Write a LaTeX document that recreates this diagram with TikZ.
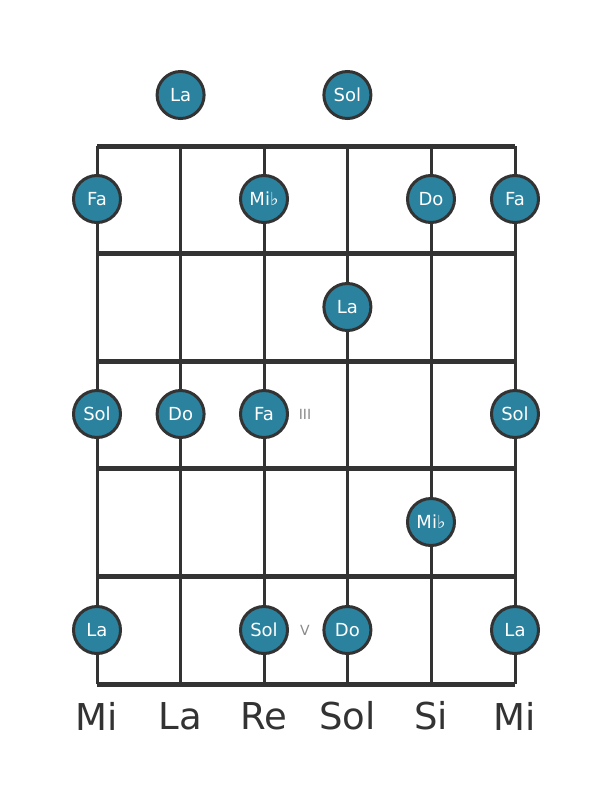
\documentclass[tikz,border=0pt]{standalone}
\usepackage{fontspec}
\setmainfont{DejaVu Sans}
\usepackage{xcolor}
\usepackage{tikz}
\definecolor{notefill}{HTML}{2A829E}
\definecolor{gridgray}{HTML}{333333}
\definecolor{markgray}{HTML}{8A8A8A}

\begin{document}
\begin{tikzpicture}[x=1pt, y=-1pt,
  note/.style={circle, fill=notefill, draw=gridgray, line width=3pt,
    minimum size=47pt, inner sep=0pt, text=white,
    font=\fontsize{18}{18}\selectfont},
  strname/.style={text=gridgray, font=\fontsize{37}{37}\selectfont},
  posmark/.style={text=markgray, font=\fontsize{14}{14}\selectfont}]
\newcommand{\Sgap}{83.6}; % string spacing
\newcommand{\Fgap}{107.6}; % fret spacing

\useasboundingbox (0,0) rectangle (611,801);

% strings
\foreach \s in {0,...,5}
  \draw[gridgray, line width=3pt] (97 + \s*\Sgap, 146) -- (97 + \s*\Sgap, 684);
% frets
\foreach \f in {0,...,5}
  \draw[gridgray, line width=5pt] (97, 146 + \f*\Fgap) -- (515, 146 + \f*\Fgap);
%

% open strings
\node[note] (o2) at (180.6, 95) {La};
\node[note] (o4) at (347.4, 95) {Sol};

% fret 1
\node[note] (a1) at (97, 199) {Fa};
\node[note] (a3) at (264, 199) {Mi♭};
\node[note] (a5) at (431, 199) {Do};
\node[note] (a6) at (515, 199) {Fa};

% fret 2
\node[note] (b4) at (347.4, 307) {La};

% fret 3
\node[note] (c1) at (97, 414) {Sol};
\node[note] (c2) at (180.6, 414) {Do};
\node[note] (c3) at (264, 414) {Fa};
\node[note] (c6) at (515, 414) {Sol};
\node[posmark] (m3) at (305, 414) {III};

% fret 4
\node[note] (d5) at (431, 522) {Mi♭};

% fret 5
\node[note] (e1) at (97, 630) {La};
\node[note] (e3) at (264, 630) {Sol};
\node[note] (e4) at (347.4, 630) {Do};
\node[note] (e6) at (515, 630) {La};
\node[posmark] (m5) at (305, 630) {V};

% tuning
\node[strname] (t1) at (97, 716) {Mi};
\node[strname] (t2) at (180.6, 716) {La};
\node[strname] (t3) at (264, 716) {Re};
\node[strname] (t4) at (347.4, 716) {Sol};
\node[strname] (t5) at (431, 716) {Si};
\node[strname] (t6) at (515, 716) {Mi};
\end{tikzpicture}
\end{document}
